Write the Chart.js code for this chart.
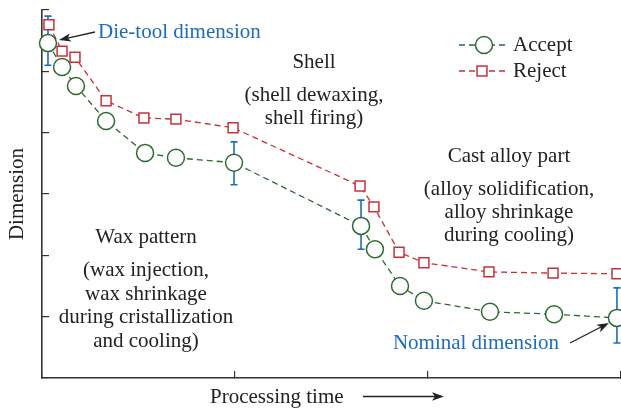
<!DOCTYPE html>
<html>
<head>
<meta charset="utf-8">
<script src="https://cdn.jsdelivr.net/npm/chart.js@4/dist/chart.umd.min.js"></script>
<style>
html,body{margin:0;padding:0;background:#fff;}
canvas{display:block;}
</style>
</head>
<body>
<canvas id="c" width="621" height="408"></canvas>
<script>
// ---- data ----
const seriesNames = ["Accept", "Reject"];
const acceptX = [0.031, 0.104, 0.176, 0.332, 0.534, 0.694, 0.995, 1.653, 1.725, 1.855, 1.979, 2.321, 2.653, 2.979];
const acceptY = [5.46, 5.07, 4.76, 4.19, 3.67, 3.59, 3.51, 2.48, 2.10, 1.50, 1.26, 1.08, 1.04, 0.98];
const rejectX = [0.036, 0.104, 0.171, 0.332, 0.528, 0.694, 0.990, 1.648, 1.720, 1.850, 1.979, 2.316, 2.648, 2.979];
const rejectY = [5.76, 5.33, 5.23, 4.52, 4.24, 4.22, 4.08, 3.13, 2.79, 2.05, 1.88, 1.73, 1.71, 1.70];
const errX    = [0.031, 0.995, 1.653, 2.979];
const errLow  = [5.10, 3.15, 2.10, 0.57];
const errHigh = [5.90, 3.85, 2.90, 1.47];
const xTicks = [0, 1, 2, 3];
const yTicks = [0, 1, 2, 3, 4, 5, 6];
const axisTitleX = "Processing time";
const axisTitleY = "Dimension";
const dieToolLabel = "Die-tool dimension";
const nominalLabel = "Nominal dimension";
const stageWax = ["Wax pattern", "(wax injection,", "wax shrinkage", "during cristallization", "and cooling)"];
const stageShell = ["Shell", "(shell dewaxing,", "shell firing)"];
const stageCast = ["Cast alloy part", "(alloy solidification,", "alloy shrinkage", "during cooling)"];

const GREEN = "#2e6a33";
const RED = "#c6323a";
const BLUE = "#1f6cbc";
const INK = "#222222";
const FONT = "21px 'Liberation Serif', 'Times New Roman', serif";

const pts = (xs, ys) => xs.map((x, i) => ({x: x, y: ys[i]}));

function arrow(ctx, x1, y1, x2, y2, color) {
  ctx.save();
  ctx.strokeStyle = color; ctx.fillStyle = color; ctx.lineWidth = 1.3;
  const a = Math.atan2(y2 - y1, x2 - x1);
  const L = 12, W = 4.2;
  const bx = x2 - L * Math.cos(a), by = y2 - L * Math.sin(a);
  ctx.beginPath(); ctx.moveTo(x1, y1); ctx.lineTo(bx + 3 * Math.cos(a), by + 3 * Math.sin(a)); ctx.stroke();
  ctx.beginPath();
  ctx.moveTo(x2, y2);
  ctx.lineTo(bx - W * Math.sin(a), by + W * Math.cos(a));
  ctx.lineTo(bx + 3 * Math.cos(a), by + 3 * Math.sin(a));
  ctx.lineTo(bx + W * Math.sin(a), by - W * Math.cos(a));
  ctx.closePath(); ctx.fill();
  ctx.restore();
}

function block(ctx, lines, cx, y0, gapTitle, lh) {
  ctx.fillText(lines[0], cx, y0);
  let y = y0 + gapTitle;
  for (let i = 1; i < lines.length; i++) { ctx.fillText(lines[i], cx, y); y += lh; }
}

const errorBars = {
  id: "errorBars",
  beforeDatasetsDraw(chart) {
    const {ctx, scales: {x, y}} = chart;
    ctx.save();
    ctx.strokeStyle = BLUE; ctx.lineWidth = 1.6;
    errX.forEach((v, i) => {
      const px = x.getPixelForValue(v);
      const pl = y.getPixelForValue(errLow[i]);
      const ph = y.getPixelForValue(errHigh[i]);
      ctx.beginPath();
      ctx.moveTo(px, pl); ctx.lineTo(px, ph);
      ctx.moveTo(px - 3.5, pl); ctx.lineTo(px + 3.5, pl);
      ctx.moveTo(px - 3.5, ph); ctx.lineTo(px + 3.5, ph);
      ctx.stroke();
    });
    ctx.restore();
  }
};

const annotations = {
  id: "annotations",
  afterDraw(chart) {
    const {ctx, scales: {x, y}} = chart;
    ctx.save();
    ctx.font = FONT;
    ctx.textBaseline = "alphabetic";
    // stage texts
    ctx.fillStyle = INK; ctx.textAlign = "center";
    block(ctx, stageShell, 314, 68, 33, 22.5);
    block(ctx, stageCast, 509, 162, 33, 23);
    block(ctx, stageWax, 146, 243, 33, 23.5);
    // blue labels + arrows
    ctx.fillStyle = BLUE; ctx.textAlign = "left";
    ctx.fillText(dieToolLabel, 98, 38);
    ctx.textAlign = "center";
    ctx.fillText(nominalLabel, 476, 349);
    const p0x = x.getPixelForValue(acceptX[0]), p0y = y.getPixelForValue(acceptY[0]);
    arrow(ctx, 95, 32, p0x + 11, p0y - 3, "#222");
    const nx = x.getPixelForValue(acceptX[acceptX.length - 1]), ny = y.getPixelForValue(acceptY[acceptY.length - 1]);
    arrow(ctx, 570, 343, nx - 8, ny + 5, "#222");
    // x title + arrow
    ctx.fillStyle = INK; ctx.textAlign = "left";
    ctx.fillText(axisTitleX, 210, 403);
    arrow(ctx, 363, 396.5, 444, 396.5, "#222");
    // legend
    const ds = chart.data.datasets;
    const rows = [{y: 45, ds: ds[0], px: 484}, {y: 71, ds: ds[1], px: 482}];
    rows.forEach(r => {
      ctx.save();
      ctx.strokeStyle = r.ds.borderColor; ctx.lineWidth = r.ds.borderWidth;
      ctx.setLineDash(r.ds.borderDash);
      ctx.beginPath(); ctx.moveTo(459, r.y); ctx.lineTo(508, r.y); ctx.stroke();
      ctx.restore();
      ctx.save();
      ctx.fillStyle = "#fff"; ctx.strokeStyle = r.ds.pointBorderColor; ctx.lineWidth = r.ds.pointBorderWidth;
      Chart.helpers.drawPoint(ctx, {pointStyle: r.ds.pointStyle, radius: r.ds.pointRadius, borderWidth: r.ds.pointBorderWidth}, r.px, r.y);
      ctx.restore();
      ctx.fillStyle = INK; ctx.textAlign = "left";
      ctx.fillText(r.ds.label, 513, r.y + 6);
    });
    ctx.restore();
  }
};

const axisStyle = {
  grid: { drawOnChartArea: false, drawTicks: true, tickLength: -7, tickColor: "#333", lineWidth: 1.2 },
  border: { display: true, color: "#333", width: 1.6 },
  ticks: { display: false, stepSize: 1 }
};

new Chart(document.getElementById("c"), {
  type: "scatter",
  data: {
    datasets: [
      {
        label: seriesNames[0], data: pts(acceptX, acceptY), showLine: true,
        borderColor: GREEN, borderWidth: 1.3, borderDash: [6, 4],
        pointStyle: "circle", pointRadius: 8.5, pointBorderWidth: 1.5,
        pointBackgroundColor: "#fff", pointBorderColor: GREEN, clip: false
      },
      {
        label: seriesNames[1], data: pts(rejectX, rejectY), showLine: true,
        borderColor: RED, borderWidth: 1.3, borderDash: [6, 4],
        pointStyle: "rect", pointRadius: 7, pointBorderWidth: 1.5,
        pointBackgroundColor: "#fff", pointBorderColor: RED, clip: false
      }
    ]
  },
  options: {
    responsive: false, animation: false, devicePixelRatio: 1,
    layout: { autoPadding: false, padding: { top: 10, right: 0, bottom: 0, left: 0 } },
    plugins: { legend: { display: false }, tooltip: { enabled: false } },
    scales: {
      x: Object.assign({}, axisStyle, {
        type: "linear", min: xTicks[0], max: xTicks[xTicks.length - 1],
        afterBuildTicks: s => { s.ticks = xTicks.map(v => ({value: v})); },
        afterFit: s => { s.height = 30; }
      }),
      y: Object.assign({}, axisStyle, {
        type: "linear", min: yTicks[0], max: yTicks[yTicks.length - 1],
        afterBuildTicks: s => { s.ticks = yTicks.map(v => ({value: v})); },
        afterFit: s => { s.width = 42; },
        title: { display: true, text: axisTitleY, color: INK, padding: { top: 5, bottom: 0 },
                 font: { family: "'Liberation Serif', 'Times New Roman', serif", size: 21 } }
      })
    }
  },
  plugins: [errorBars, annotations]
});
</script>
</body>
</html>
